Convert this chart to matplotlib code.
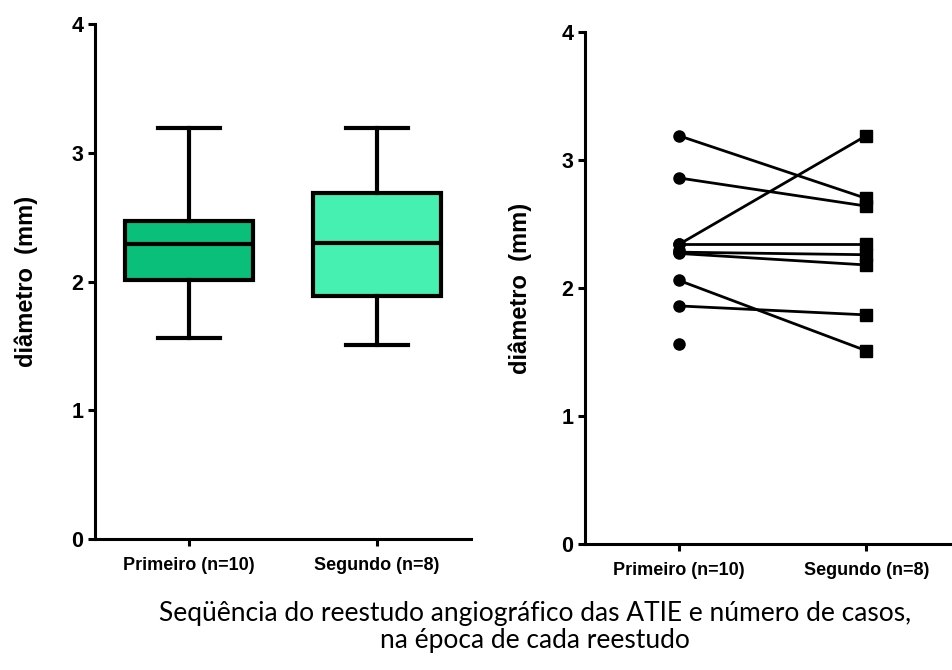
import numpy as np
import matplotlib
matplotlib.use("Agg")
import matplotlib.pyplot as plt

# dados
categorias = ["Primeiro (n=10)", "Segundo (n=8)"]
primeiro = [3.19, 2.86, 2.34, 2.34, 2.30, 2.28, 2.27, 2.06, 1.86, 1.56]
segundo = [2.70, 2.64, 3.19, 2.34, 2.26, 2.18, 1.51, 1.79]
# pares ligados (primeiro -> segundo)
pares_ini = [3.19, 2.86, 2.34, 2.34, 2.28, 2.27, 2.06, 1.86]
pares_fim = [2.70, 2.64, 3.19, 2.34, 2.26, 2.18, 1.51, 1.79]
cores = ["#0abf7a", "#45f0b0"]
legenda = "Seqüência do reestudo angiográfico das ATIE e número de casos,\nna época de cada reestudo"

plt.rcParams["font.family"] = ["Liberation Sans", "DejaVu Sans"]
plt.rcParams["font.weight"] = "bold"

fig = plt.figure(figsize=(9.52, 6.7), dpi=100)
ax1 = fig.add_axes([95 / 952, 131 / 670, 376 / 952, 515 / 670])
ax2 = fig.add_axes([585 / 952, 126 / 670, 375 / 952, 512 / 670])


def stats(vals, label):
    q1, med, q3 = np.percentile(vals, [25, 50, 75], method="weibull")
    return dict(med=med, q1=q1, q3=q3, whislo=min(vals), whishi=max(vals),
                fliers=[], label=label)


bp = ax1.bxp([stats(primeiro, categorias[0]), stats(segundo, categorias[1])],
             positions=[0, 1], widths=0.676, capwidths=0.325, patch_artist=True,
             showfliers=False,
             boxprops=dict(linewidth=3),
             whiskerprops=dict(linewidth=3),
             capprops=dict(linewidth=3),
             medianprops=dict(color="black", linewidth=3))
for patch, c in zip(bp["boxes"], cores):
    patch.set_facecolor(c)
    patch.set_edgecolor("black")

# pontos individuais
ax2.plot(np.zeros(len(primeiro)), primeiro, "o", color="black", ms=8)
ax2.plot(np.ones(len(segundo)), segundo, "s", color="black", ms=8.5)
for a, b in zip(pares_ini, pares_fim):
    ax2.plot([0, 1], [a, b], color="black", lw=2)

for ax in (ax1, ax2):
    ax.set_xlim(-0.5, 1.5)
    ax.set_ylim(0, 4)
    ax.set_yticks([0, 1, 2, 3, 4])
    ax.set_xticks([0, 1])
    ax.set_xticklabels(categorias)
    ax.spines["top"].set_visible(False)
    ax.spines["right"].set_visible(False)
    ax.spines["left"].set_linewidth(2.2)
    ax.spines["bottom"].set_linewidth(2.2)
    ax.tick_params(width=2.2, length=5, labelsize=13)
    ax.tick_params(axis="x", pad=8)
    ax.set_ylabel("diâmetro  (mm)", fontsize=17, fontweight="bold")
    for t in ax.get_yticklabels():
        t.set_fontsize(15.5)

ax1.yaxis.set_label_coords(-0.152, 0.5)
ax2.yaxis.set_label_coords(-0.141, 0.5)

fig.text(0.562, 0.064, legenda, ha="center", va="center", fontsize=19,
         family=["Lato", "DejaVu Sans"], fontweight="normal", linespacing=1.1)

fig.savefig("out.png", dpi=100)
